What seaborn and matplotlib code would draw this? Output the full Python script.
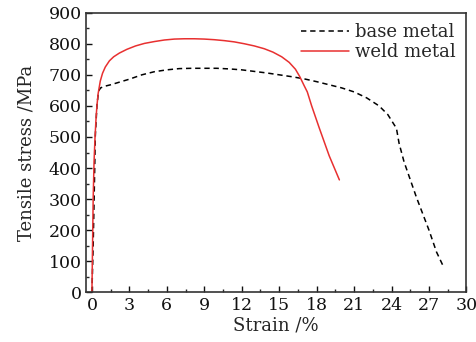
import matplotlib
matplotlib.use('Agg')
import matplotlib.pyplot as plt
import seaborn as sns
import pandas as pd
from matplotlib.ticker import MultipleLocator

# Data
base_strain = [0, 0.1, 0.2, 0.27, 0.4, 0.53, 0.7, 1, 1.5, 2, 3, 4, 5, 6, 7, 8, 9, 10, 11,
               12, 13, 14, 15, 16, 17, 18, 19, 20, 21, 22, 23, 23.7, 24.2, 24.39, 24.6,
               25, 26, 27, 27.6, 28.13]
base_stress = [0, 150, 350, 502, 600, 648, 658, 663, 668, 674, 686, 700, 710, 716, 720,
               721, 721, 721, 719, 716, 711, 706, 700, 694, 687, 678, 668, 658, 645, 626,
               600, 572, 540, 528, 480, 420, 305, 200, 130, 85]

weld_strain = [0, 0.05, 0.1, 0.17, 0.25, 0.33, 0.4, 0.5, 0.67, 0.85, 1.07, 1.4, 1.74, 2.2,
               2.8, 3.5, 4.2, 5, 5.8, 6.6, 7.4, 8.2, 9, 9.8, 10.6, 11.4, 12.2, 13, 13.8,
               14.5, 15.2, 15.8, 16.3, 16.65, 17.0, 17.25, 17.6, 18.2, 19.0, 19.82]
weld_stress = [0, 150, 300, 420, 500, 560, 600, 640, 680, 705, 725, 745, 758, 770, 782,
               793, 801, 807, 812, 815, 816, 816, 815, 813, 810, 806, 800, 793, 784, 773,
               758, 740, 718, 694, 665, 645, 600, 530, 440, 362]

x_ticks = [0, 3, 6, 9, 12, 15, 18, 21, 24, 27, 30]
y_ticks = [0, 100, 200, 300, 400, 500, 600, 700, 800, 900]

sns.set_style('ticks')
plt.rcParams['font.family'] = ['DejaVu Serif']
plt.rcParams['xtick.direction'] = 'in'
plt.rcParams['ytick.direction'] = 'in'

df_base = pd.DataFrame({'strain': base_strain, 'stress': base_stress})
df_weld = pd.DataFrame({'strain': weld_strain, 'stress': weld_stress})

fig, ax = plt.subplots(figsize=(4.76, 3.42), dpi=100)
fig.subplots_adjust(left=0.18, right=0.98, top=0.963, bottom=0.145)

sns.lineplot(data=df_base, x='strain', y='stress', ax=ax, sort=False, color='black',
             linestyle=(0, (3.5, 2.5)), linewidth=1.1, label='base metal')
sns.lineplot(data=df_weld, x='strain', y='stress', ax=ax, sort=False, color='#e83030',
             linewidth=1.1, label='weld metal')

ax.set_xlim(-0.5, 30)
ax.set_ylim(0, 900)
ax.set_xticks(x_ticks)
ax.set_yticks(y_ticks)
ax.xaxis.set_minor_locator(MultipleLocator(1.5))
ax.yaxis.set_minor_locator(MultipleLocator(50))
ax.tick_params(which='major', length=4, width=1, labelsize=12.5, pad=3, colors='#111111')
ax.tick_params(which='minor', length=2.5, width=1)
ax.set_xlabel('Strain /%', fontsize=13, labelpad=2)
ax.set_ylabel('Tensile stress /MPa', fontsize=13, labelpad=9)
for s in ax.spines.values():
    s.set_linewidth(1.2)
    s.set_color('#333333')

ax.legend(loc='upper right', frameon=False, fontsize=13, handlelength=2.7,
          handletextpad=0.3, borderaxespad=0.2, labelspacing=0.1)

fig.savefig('out.png', dpi=100)
